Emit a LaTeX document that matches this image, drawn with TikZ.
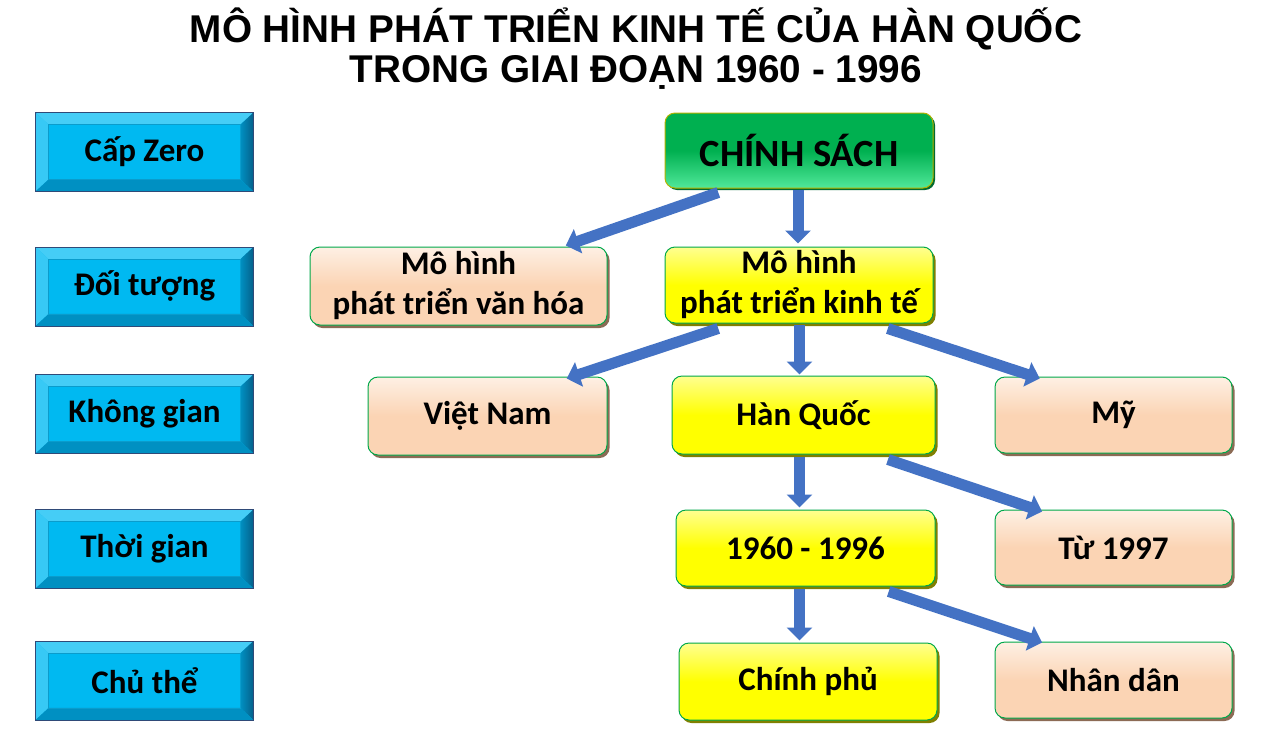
\documentclass[tikz,border=0pt]{standalone}
\usepackage{fontspec}
\setmainfont{Carlito}
\newfontfamily\titlefont{Liberation Sans}
\usetikzlibrary{arrows.meta,calc,shadows}
\definecolor{cyanbox}{HTML}{00B9F1}
\definecolor{cyanlight}{HTML}{45CDF6}
\definecolor{cyandark}{HTML}{05608A}
\definecolor{cyanbot}{HTML}{0090C2}
\definecolor{cyaninner}{HTML}{0A9CCC}
\definecolor{navy}{HTML}{2F4A78}
\definecolor{peach}{HTML}{FBD4B4}
\definecolor{peachlight}{HTML}{FEF0E4}
\definecolor{peachdark}{HTML}{8C6B55}
\definecolor{yel}{HTML}{FFFF00}
\definecolor{yellight}{HTML}{FFFF90}
\definecolor{yeldark}{HTML}{808000}
\definecolor{grn}{HTML}{00B050}
\definecolor{grnlight}{HTML}{50E89A}
\definecolor{grndark}{HTML}{006B30}
\definecolor{grnborder}{HTML}{00A84A}
\definecolor{arrowblue}{HTML}{4472C4}
\tikzset{
  lbox/.style={draw=navy, line width=0.8pt, fill=cyanbox, minimum width=217pt,
    minimum height=78pt, inner sep=0pt, font=\fontsize{33}{38}\bfseries\selectfont},
  rbox/.style={rounded corners=10pt, draw=grnborder, line width=1pt, inner sep=0pt,
    align=center, font=\fontsize{33}{40}\bfseries\selectfont},
  peachbox/.style={rbox, top color=peachlight, bottom color=peach, middle color=peach,
    drop shadow={shadow xshift=2.5pt, shadow yshift=-3pt, fill=peachdark, opacity=1}},
  yelbox/.style={rbox, top color=yellight, bottom color=yel, middle color=yel,
    drop shadow={shadow xshift=2.5pt, shadow yshift=-3pt, fill=yeldark, opacity=1}},
  grnbox/.style={rbox, draw=yeldark!60!yel, top color=grn, bottom color=grnlight, middle color=grn,
    drop shadow={shadow xshift=2pt, shadow yshift=-2pt, fill=grndark, opacity=1}},
  arr/.style={draw=arrowblue, line width=11pt, -{Triangle[width=25pt,length=13pt]}},
  titletext/.style={font=\titlefont\fontsize{38.7}{40}\bfseries\selectfont, align=center}
}
\begin{document}
\begin{tikzpicture}[x=1pt,y=-1pt]
\useasboundingbox (0,0) rectangle (1280,737);
\fill[white] (0,0) rectangle (1280,737);

\node[titletext] (title) at (636,49) {MÔ HÌNH PHÁT TRIỂN KINH TẾ CỦA HÀN QUỐC\\TRONG GIAI ĐOẠN 1960 - 1996};

% left level boxes
\node[lbox] (l1) at (144.5,152) {Cấp Zero};
\node[lbox] (l2) at (144.5,286.5) {Đối tượng};
\node[lbox] (l3) at (144.5,414) {Không gian};
\node[lbox] (l4) at (144.5,549) {Thời gian};
\node[lbox] (l5) at (144.5,680.5) {Chủ thể};
\foreach \n in {l1,l2,l3,l4,l5}{
  \fill[cyanlight] (\n.north west) -- (\n.north east) -- ([shift={(-13pt,-12pt)}]\n.north east) -- ([shift={(13pt,-12pt)}]\n.north west) -- cycle;
  \fill[cyanlight!80!cyanbox] (\n.north west) -- ([shift={(13pt,-12pt)}]\n.north west) -- ([shift={(13pt,12pt)}]\n.south west) -- (\n.south west) -- cycle;
  \shade[left color=cyanbot, right color=cyandark] (\n.north east) -- (\n.south east) -- ([shift={(-13pt,12pt)}]\n.south east) -- ([shift={(-13pt,-12pt)}]\n.north east) -- cycle;
  \fill[cyanbot] (\n.south west) -- ([shift={(13pt,12pt)}]\n.south west) -- ([shift={(-13pt,12pt)}]\n.south east) -- (\n.south east) -- cycle;
  \draw[cyaninner, line width=0.8pt] ([shift={(13pt,-12pt)}]\n.north west) rectangle ([shift={(-13pt,12pt)}]\n.south east);
  \draw[navy, line width=0.8pt] (\n.north west) rectangle (\n.south east);
}

% right boxes
\node[grnbox, minimum width=268pt, minimum height=75pt, font=\fontsize{38.5}{40}\bfseries\selectfont] (cs) at (799,150.5) {CHÍNH SÁCH};
\node[yelbox, minimum width=268pt, minimum height=76pt] (kt) at (799,285) {Mô hình\\phát triển kinh tế};
\node[peachbox, minimum width=297pt, minimum height=78pt] (vh) at (458.5,286) {Mô hình\\phát triển văn hóa};
\node[peachbox, minimum width=239pt, minimum height=78pt] (vn) at (487.5,416) {Việt Nam};
\node[yelbox, minimum width=263pt, minimum height=78pt] (hq) at (803.5,415) {Hàn Quốc};
\node[peachbox, minimum width=237pt, minimum height=76pt] (my) at (1113.5,415) {Mỹ};
\node[yelbox, minimum width=259pt, minimum height=76pt] (t60) at (805.5,548) {1960 - 1996};
\node[peachbox, minimum width=237pt, minimum height=75pt] (t97) at (1113.5,547.5) {Từ 1997};
\node[yelbox, minimum width=258pt, minimum height=77pt] (cp) at (808,681.5) {Chính phủ};
\node[peachbox, minimum width=237pt, minimum height=76pt] (nd) at (1113.5,680) {Nhân dân};

% arrows
\draw[arr] ($(cs.south west)!0.2!(cs.south east)+(0,4)$) -- ($(vh.north west)!0.86!(vh.north east)+(0,-1)$);
\draw[arr] ($(cs.south)+(-1,1)$) -- ($(cs.south |- kt.north)+(-1,-3)$);
\draw[arr] ($(kt.south west)!0.2!(kt.south east)+(0,5)$) -- ($(vn.north west)!0.83!(vn.north east)+(0,2)$);
\draw[arr] ($(kt.south)+(0.5,1)$) -- ($(kt.south |- hq.north)+(0.5,-1)$);
\draw[arr] ($(kt.south west)!0.83!(kt.south east)+(0,5)$) -- ($(my.north west)!0.19!(my.north east)+(0,2)$);
\draw[arr] ($(hq.south)+(-4,2)$) -- ($(hq.south |- t60.north)+(-4,-2)$);
\draw[arr] ($(hq.south west)!0.82!(hq.south east)+(0,5)$) -- ($(t97.north west)!0.2!(t97.north east)+(0,2)$);
\draw[arr] ($(t60.south)+(-6,2)$) -- ($(t60.south |- cp.north)+(-6,-2)$);
\draw[arr] ($(t60.south west)!0.82!(t60.south east)+(0,5)$) -- ($(nd.north west)!0.2!(nd.north east)+(0,1)$);
\end{tikzpicture}
\end{document}
